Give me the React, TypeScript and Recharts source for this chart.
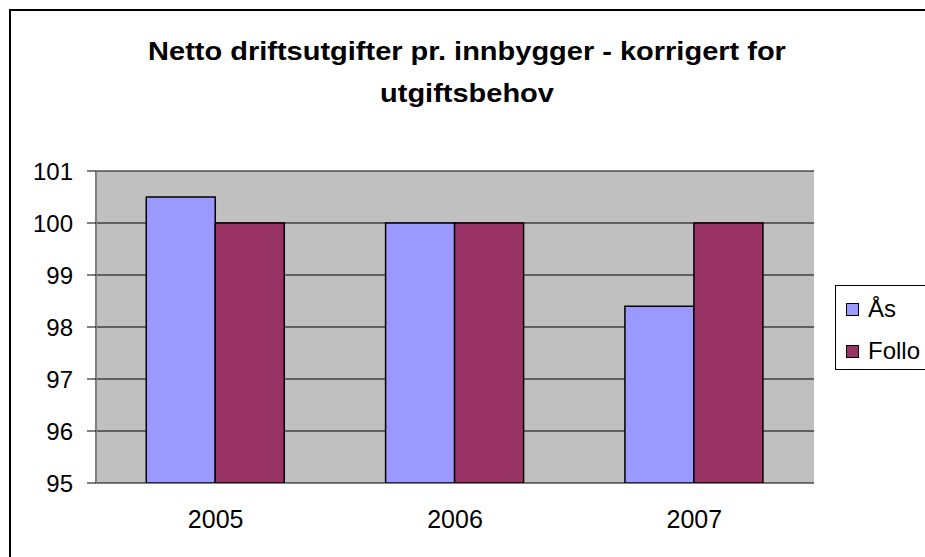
import React from 'react';
import { BarChart, Bar, XAxis, YAxis, CartesianGrid } from 'recharts';

const years = ['2005', '2006', '2007'];
const asValues = [100.5, 100, 98.4];
const folloValues = [100, 100, 100];
const yTicks = [95, 96, 97, 98, 99, 100, 101];
const seriesNames = ['Ås', 'Follo'];
const seriesColors = ['#9999FF', '#993366'];
const titleLines = ['Netto driftsutgifter pr. innbygger - korrigert for', 'utgiftsbehov'];

const data = years.map((y, i) => ({ year: y, as: asValues[i], follo: folloValues[i] }));

const FONT = '"Liberation Sans", Arial, sans-serif';

export default function App() {
  return (
    <div style={{ position: 'fixed', left: 0, top: 0, width: 925, height: 557, overflow: 'hidden', background: '#fff', fontFamily: FONT }}>
      <div style={{ position: 'absolute', left: 9, top: 9, width: 1200, height: 1200, border: '2px solid #000' }} />
      <div style={{ position: 'absolute', left: 117, width: 700, top: 30, textAlign: 'center', fontWeight: 'bold', fontSize: 26, lineHeight: '42px', color: '#000', whiteSpace: 'nowrap', transform: 'scaleX(1.115)', transformOrigin: '50% 50%' }}>
        {titleLines.map((t) => (<div key={t}>{t}</div>))}
      </div>
      <div style={{ position: 'absolute', left: 0, top: 0 }}>
        <BarChart width={925} height={557} data={data} margin={{ top: 171, right: 111, bottom: 44, left: 0 }} barCategoryGap="21%" barGap={0}>
          <CartesianGrid vertical={false} horizontal={true} stroke="#000" fill="#C0C0C0" fillOpacity={1} />
          <XAxis xAxisId="b" type="number" domain={[0, 3]} ticks={[0, 1, 2, 3]} tick={false} tickSize={8} height={0} axisLine={{ stroke: '#808080', strokeWidth: 2 }} tickLine={{ stroke: '#808080', strokeWidth: 1.5 }} />
          <XAxis dataKey="year" height={30} axisLine={false} tickLine={false} tickSize={0} tickMargin={27} tick={{ fill: '#000', fontSize: 25, fontFamily: FONT }} />
          <XAxis xAxisId="t" orientation="top" type="number" domain={[0, 3]} tick={false} tickLine={false} height={0} axisLine={{ stroke: '#808080', strokeWidth: 2 }} />
          <YAxis domain={[95, 101]} ticks={yTicks} width={96} tickSize={9} tickMargin={14} axisLine={{ stroke: '#808080', strokeWidth: 2 }} tickLine={{ stroke: '#000' }} tick={{ fill: '#000', fontSize: 24, fontFamily: FONT }} allowDataOverflow />
          <YAxis yAxisId="r" orientation="right" domain={[95, 101]} width={0} tick={false} tickLine={false} axisLine={{ stroke: '#808080', strokeWidth: 2 }} />
          <Bar dataKey="as" name={seriesNames[0]} fill={seriesColors[0]} stroke="#000" strokeWidth={1.5} isAnimationActive={false} />
          <Bar dataKey="follo" name={seriesNames[1]} fill={seriesColors[1]} stroke="#000" strokeWidth={1.5} isAnimationActive={false} />
        </BarChart>
      </div>
      <div style={{ position: 'absolute', left: 835, top: 285, width: 200, height: 83, border: '1px solid #000', background: '#fff' }}>
        {seriesNames.map((n, i) => (
          <div key={n} style={{ position: 'absolute', left: 0, top: 4 + i * 42, height: 38, display: 'flex', alignItems: 'center' }}>
            <div style={{ marginLeft: 10, width: 11, height: 11, border: '1px solid #000', background: seriesColors[i] }} />
            <span style={{ marginLeft: 9, fontSize: 24, color: '#000', lineHeight: '38px' }}>{n}</span>
          </div>
        ))}
      </div>
    </div>
  );
}
